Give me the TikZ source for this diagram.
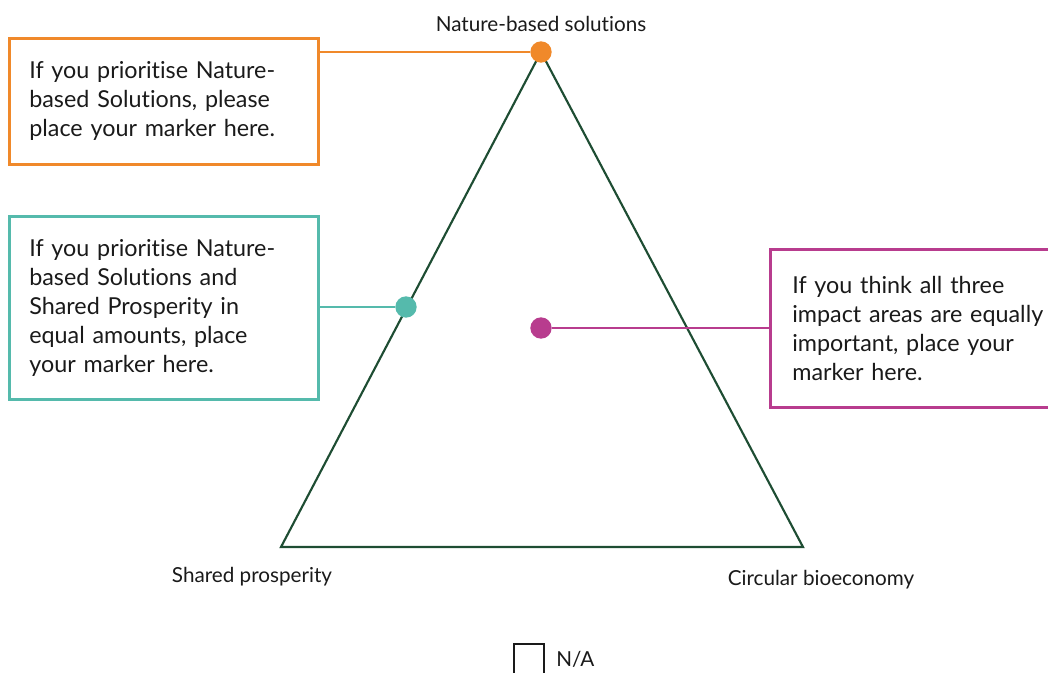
\documentclass[tikz,border=0pt]{standalone}
\usepackage{fontspec}
\setmainfont{Lato}[Ligatures={NoCommon,NoRare}]
\usepackage{tikz}
\usetikzlibrary{positioning}
\usepackage{xcolor}
\definecolor{triGreen}{HTML}{1E4D33}
\definecolor{nbsOrange}{HTML}{F0892A}
\definecolor{spTeal}{HTML}{55BAAC}
\definecolor{allMagenta}{HTML}{B83C8E}
\definecolor{inkBlack}{HTML}{1A1A1A}

\tikzset{
  prompt/.style={draw=#1, line width=2pt, anchor=north west, align=left,
    inner xsep=15pt, inner ysep=0pt, text=inkBlack,
    font=\fontsize{17.5}{21.75}\selectfont},
  marker/.style={circle, fill=#1, inner sep=0pt, minimum size=16pt},
  lead/.style={draw=#1, line width=2pt},
  corner/.style={text=inkBlack, font=\fontsize{15.5}{18}\selectfont},
}

\begin{document}
\begin{tikzpicture}[x=0.75pt,y=-0.75pt]
    \clip (0,0) rectangle (1048,673);

    \coordinate (apex) at (541,52);
    \coordinate (sp) at (281,547);
    \coordinate (cb) at (803,547);
    \draw[triGreen, line width=1.6pt] (apex) -- (sp) -- (cb) -- cycle;

    \node[prompt=nbsOrange, minimum width=231.75pt, minimum height=94.5pt,
      text width=201.75pt] (nbsbox) at (8,37)
      {If you prioritise Nature-\\based Solutions, please\\place your marker here.};
    \node[prompt=spTeal, minimum width=231.75pt, minimum height=137.25pt,
      text width=201.75pt] (spbox) at (8,215)
      {If you prioritise Nature-\\based Solutions and\\Shared Prosperity in\\equal amounts, place\\your marker here.};
    \node[prompt=allMagenta, minimum width=233pt, minimum height=118.5pt,
      text width=200pt, inner xsep=16.5pt] (allbox) at (769,248)
      {If you think all three\\impact areas are equally\\important, place your\\marker here.};

    \node[marker=nbsOrange] (nbsdot) at (apex) {};
    \node[marker=spTeal] (spdot) at (406,307) {};
    \node[marker=allMagenta] (alldot) at (541,328) {};

    \draw[lead=nbsOrange] (nbsbox.east |- nbsdot) -- (nbsdot);
    \draw[lead=spTeal] (spbox.east |- spdot) -- (spdot);
    \draw[lead=allMagenta] (alldot) -- (alldot -| allbox.west);

    \node[corner] (nbslabel) at (541,24) {Nature-based solutions};
    \node[corner] (splabel) at (252,577) {Shared prosperity};
    \node[corner] (cblabel) at (821,580) {Circular bioeconomy};

    \node[draw=inkBlack, line width=1.5pt, minimum size=22.5pt, inner sep=0pt,
      anchor=north west] (nabox) at (513,643) {};
    \node[corner, right=5pt of nabox] (natext) {N/A};
  \end{tikzpicture}
\end{document}
